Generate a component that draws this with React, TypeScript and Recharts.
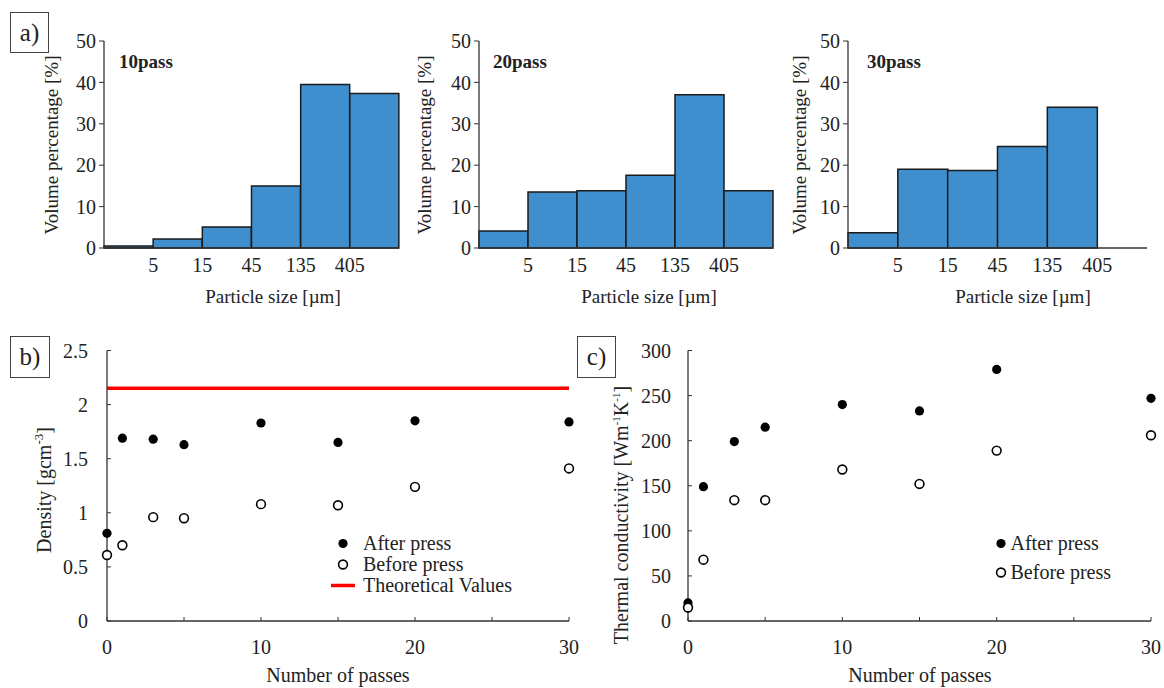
import React from 'react';
import {
  BarChart,
  Bar,
  ScatterChart,
  Scatter,
  XAxis,
  YAxis,
  ReferenceLine,
  Legend,
  Label,
} from 'recharts';

// particle size histograms (a)
const bins = ['<5', '5-15', '15-45', '45-135', '135-405', '>405'];
const binEdges = ['5', '15', '45', '135', '405'];
const pass10 = [0.5, 2.2, 5.1, 15.0, 39.5, 37.3];
const pass20 = [4.1, 13.5, 13.8, 17.6, 37.0, 13.8];
const pass30 = [3.7, 19.0, 18.7, 24.5, 34.0, 0];
const volumeTicks = [0, 10, 20, 30, 40, 50];

// density (b) and thermal conductivity (c)
const passes = [0, 1, 3, 5, 10, 15, 20, 30];
const densityAfter = [0.81, 1.69, 1.68, 1.63, 1.83, 1.65, 1.85, 1.84];
const densityBefore = [0.61, 0.7, 0.96, 0.95, 1.08, 1.07, 1.24, 1.41];
const theoreticalDensity = 2.15;
const conductivityAfter = [20, 149, 199, 215, 240, 233, 279, 247];
const conductivityBefore = [15, 68, 134, 134, 168, 152, 189, 206];
const passTicks = [0, 5, 10, 15, 20, 25, 30];
const densityTicks = [0, 0.5, 1, 1.5, 2, 2.5];
const conductivityTicks = [0, 50, 100, 150, 200, 250, 300];

const SERIF = '"Liberation Serif", "Times New Roman", serif';
const INK = '#222';
const FRAME = '#333';
const BAR_FILL = '#3f8fcf';
const tickStyle = { fontSize: 20, fill: INK, fontFamily: SERIF };

const toPoints = (ys: number[]) => passes.map((x, i) => ({ x, y: ys[i] }));

const FilledDot = (props: any) => <circle cx={props.cx} cy={props.cy} r={4.6} fill="#000" />;
const OpenDot = (props: any) => (
  <circle cx={props.cx} cy={props.cy} r={4.4} fill="#fff" stroke="#000" strokeWidth={1.6} />
);

const PanelTag = ({ text, left, top, w, h }: { text: string; left: number; top: number; w: number; h: number }) => (
  <div
    style={{
      position: 'absolute',
      left,
      top,
      width: w,
      height: h,
      boxSizing: 'border-box',
      border: '1.2px solid #444',
      background: '#fff',
      display: 'flex',
      alignItems: 'center',
      justifyContent: 'center',
      fontSize: 25,
      color: INK,
      zIndex: 2,
    }}
  >
    {text}
  </div>
);

type HistProps = {
  left: number;
  width: number;
  axisWidth: number;
  right: number;
  values: number[];
  name: string;
  nameX: number;
  yTitleX: number;
  xTitleX: number;
};

const Histogram = ({ left, width, axisWidth, right, values, name, nameX, yTitleX, xTitleX }: HistProps) => {
  const data = bins.map((b, i) => ({ bin: b, v: values[i] }));
  const halfBand = (width - axisWidth - right) / bins.length / 2;

  const EdgeTick = (props: any) => {
    const { x, y, payload } = props;
    const i = props.index ?? payload.index;
    if (i >= binEdges.length) return null;
    const off = payload.offset ?? halfBand;
    return (
      <text x={x + off} y={y + 24} textAnchor="middle" {...tickStyle}>
        {binEdges[i]}
      </text>
    );
  };

  return (
    <div style={{ position: 'absolute', left, top: 0 }}>
      <BarChart
        width={width}
        height={310}
        data={data}
        barCategoryGap={0}
        margin={{ top: 41, right, left: 0, bottom: 0 }}
      >
        <XAxis
          dataKey="bin"
          height={62}
          tickLine={false}
          tickSize={0}
          tickMargin={0}
          tick={<EdgeTick />}
          interval={0}
          axisLine={{ stroke: FRAME, strokeWidth: 1.3 }}
        >
          <Label
            content={() => (
              <text x={xTitleX} y={303} textAnchor="middle" fontSize={19} fill={INK} fontFamily={SERIF}>
                Particle size [µm]
              </text>
            )}
          />
        </XAxis>
        <YAxis
          domain={[0, 50]}
          ticks={volumeTicks}
          width={axisWidth}
          tickSize={5}
          tickMargin={3}
          tick={tickStyle}
          axisLine={{ stroke: FRAME, strokeWidth: 1.3 }}
          tickLine={{ stroke: FRAME }}
        >
          <Label
            content={() => (
              <g>
                <text
                  transform={`translate(${yTitleX},145) rotate(-90)`}
                  textAnchor="middle"
                  fontSize={19}
                  fill={INK}
                  fontFamily={SERIF}
                >
                  Volume percentage [%]
                </text>
                <text x={nameX} y={68} fontSize={19} fontWeight="bold" fill={INK} fontFamily={SERIF}>
                  {name}
                </text>
              </g>
            )}
          />
        </YAxis>
        <XAxis
          xAxisId="top"
          orientation="top"
          dataKey="bin"
          height={0}
          tick={false}
          tickLine={false}
          axisLine={{ stroke: FRAME, strokeWidth: 1.3 }}
        />
        <YAxis
          yAxisId="right"
          orientation="right"
          domain={[0, 50]}
          width={0}
          tick={false}
          tickLine={false}
          axisLine={{ stroke: FRAME, strokeWidth: 1.3 }}
        />
        <Bar dataKey="v" fill={BAR_FILL} stroke="#1b1b1b" strokeWidth={1.5} isAnimationActive={false} />
      </BarChart>
    </div>
  );
};

type LegendRow = { label: string; kind: 'filled' | 'open' | 'line' };

const makeLegend = (rows: LegendRow[], rowHeight: number, markerWidth: number, gap: number) => () => (
  <div style={{ fontSize: 20, color: INK, lineHeight: `${rowHeight}px`, fontFamily: SERIF }}>
    {rows.map((r) => (
      <div key={r.label} style={{ display: 'flex', alignItems: 'center', height: rowHeight }}>
        <svg width={markerWidth} height={rowHeight} style={{ marginRight: gap }}>
          {r.kind === 'filled' && <circle cx={markerWidth / 2} cy={rowHeight / 2} r={4.6} fill="#000" />}
          {r.kind === 'open' && (
            <circle cx={markerWidth / 2} cy={rowHeight / 2} r={4.4} fill="#fff" stroke="#000" strokeWidth={1.6} />
          )}
          {r.kind === 'line' && (
            <line x1={0} x2={markerWidth} y1={rowHeight / 2} y2={rowHeight / 2} stroke="#ff0000" strokeWidth={3.5} />
          )}
        </svg>
        <span style={{ whiteSpace: 'nowrap' }}>{r.label}</span>
      </div>
    ))}
  </div>
);

const densityLegend = makeLegend(
  [
    { label: 'After press', kind: 'filled' },
    { label: 'Before press', kind: 'open' },
    { label: 'Theoretical Values', kind: 'line' },
  ],
  21,
  24,
  8
);

const conductivityLegend = makeLegend(
  [
    { label: 'After press', kind: 'filled' },
    { label: 'Before press', kind: 'open' },
  ],
  29,
  14,
  3
);

const passFormatter = (v: number) => (v % 10 === 0 ? String(v) : '');

const DensityChart = () => (
  <div style={{ position: 'absolute', left: 0, top: 310 }}>
    <ScatterChart width={580} height={378} margin={{ top: 40.5, right: 11, left: 0, bottom: 0 }}>
      <XAxis
        type="number"
        dataKey="x"
        domain={[0, 30]}
        ticks={passTicks}
        tickFormatter={passFormatter}
        height={67}
        tickSize={-4}
        tickMargin={23}
        tick={tickStyle}
        axisLine={{ stroke: FRAME, strokeWidth: 1.3 }}
        tickLine={{ stroke: FRAME }}
      >
        <Label
          content={() => (
            <text x={338} y={372} textAnchor="middle" fontSize={20} fill={INK} fontFamily={SERIF}>
              Number of passes
            </text>
          )}
        />
      </XAxis>
      <YAxis
        type="number"
        dataKey="y"
        domain={[0, 2.5]}
        ticks={densityTicks}
        width={107}
        tickSize={-4}
        tickMargin={23}
        tick={tickStyle}
        axisLine={{ stroke: FRAME, strokeWidth: 1.3 }}
        tickLine={{ stroke: FRAME }}
      >
        <Label
          content={() => (
            <text
              transform="translate(51,180) rotate(-90)"
              textAnchor="middle"
              fontSize={20}
              fill={INK}
              fontFamily={SERIF}
            >
              Density [gcm
              <tspan dy={-8} fontSize={13}>
                -3
              </tspan>
              <tspan dy={8}>]</tspan>
            </text>
          )}
        />
      </YAxis>
      <XAxis
        xAxisId="top"
        orientation="top"
        type="number"
        domain={[0, 30]}
        height={0}
        tick={false}
        tickLine={false}
        axisLine={{ stroke: FRAME, strokeWidth: 1.3 }}
      />
      <YAxis
        yAxisId="right"
        orientation="right"
        type="number"
        domain={[0, 2.5]}
        width={0}
        tick={false}
        tickLine={false}
        axisLine={{ stroke: FRAME, strokeWidth: 1.3 }}
      />
      <ReferenceLine y={theoreticalDensity} stroke="#ff0000" strokeWidth={3.5} />
      <Scatter data={toPoints(densityAfter)} shape={FilledDot} isAnimationActive={false} />
      <Scatter data={toPoints(densityBefore)} shape={OpenDot} isAnimationActive={false} />
      <Legend
        layout="vertical"
        align="center"
        verticalAlign="middle"
        content={densityLegend}
        wrapperStyle={{ left: 331, top: 222.5, width: 'auto' }}
      />
    </ScatterChart>
  </div>
);

const ConductivityChart = () => (
  <div style={{ position: 'absolute', left: 580, top: 310 }}>
    <ScatterChart width={584} height={378} margin={{ top: 40.5, right: 13, left: 0, bottom: 0 }}>
      <XAxis
        type="number"
        dataKey="x"
        domain={[0, 30]}
        ticks={passTicks}
        tickFormatter={passFormatter}
        height={67}
        tickSize={-4}
        tickMargin={23}
        tick={tickStyle}
        axisLine={{ stroke: FRAME, strokeWidth: 1.3 }}
        tickLine={{ stroke: FRAME }}
      >
        <Label
          content={() => (
            <text x={340} y={372} textAnchor="middle" fontSize={20} fill={INK} fontFamily={SERIF}>
              Number of passes
            </text>
          )}
        />
      </XAxis>
      <YAxis
        type="number"
        dataKey="y"
        domain={[0, 300]}
        ticks={conductivityTicks}
        width={108}
        tickSize={-4}
        tickMargin={21}
        tick={tickStyle}
        axisLine={{ stroke: FRAME, strokeWidth: 1.3 }}
        tickLine={{ stroke: FRAME }}
      >
        <Label
          content={() => (
            <text
              transform="translate(48,205) rotate(-90)"
              textAnchor="middle"
              fontSize={20}
              fill={INK}
              fontFamily={SERIF}
            >
              Thermal conductivity [Wm
              <tspan dy={-8} fontSize={11}>
                -1
              </tspan>
              <tspan dy={8}>K</tspan>
              <tspan dy={-8} fontSize={11}>
                -1
              </tspan>
              <tspan dy={8}>]</tspan>
            </text>
          )}
        />
      </YAxis>
      <XAxis
        xAxisId="top"
        orientation="top"
        type="number"
        domain={[0, 30]}
        height={0}
        tick={false}
        tickLine={false}
        axisLine={{ stroke: FRAME, strokeWidth: 1.3 }}
      />
      <YAxis
        yAxisId="right"
        orientation="right"
        type="number"
        domain={[0, 300]}
        width={0}
        tick={false}
        tickLine={false}
        axisLine={{ stroke: FRAME, strokeWidth: 1.3 }}
      />
      <Scatter data={toPoints(conductivityAfter)} shape={FilledDot} isAnimationActive={false} />
      <Scatter data={toPoints(conductivityBefore)} shape={OpenDot} isAnimationActive={false} />
      <Legend
        layout="vertical"
        align="center"
        verticalAlign="middle"
        content={conductivityLegend}
        wrapperStyle={{ left: 413.5, top: 218.5, width: 'auto' }}
      />
    </ScatterChart>
  </div>
);

export default function App() {
  return (
    <div
      style={{
        position: 'absolute',
        left: 0,
        top: 0,
        width: 1164,
        height: 688,
        background: '#fff',
        fontFamily: SERIF,
        overflow: 'hidden',
      }}
    >
      <Histogram left={0} width={410} axisWidth={104} right={11} values={pass10} name="10pass" nameX={119} yTitleX={58} xTitleX={273} />
      <Histogram left={400} width={385} axisWidth={79} right={12} values={pass20} name="20pass" nameX={93} yTitleX={31} xTitleX={249} />
      <Histogram left={780} width={384} axisWidth={68} right={17} values={pass30} name="30pass" nameX={87} yTitleX={26} xTitleX={243} />
      <DensityChart />
      <ConductivityChart />
      <PanelTag text="a)" left={10} top={12} w={39} h={41} />
      <PanelTag text="b)" left={10} top={336} w={40} h={42} />
      <PanelTag text="c)" left={577} top={336} w={39} h={42} />
    </div>
  );
}
